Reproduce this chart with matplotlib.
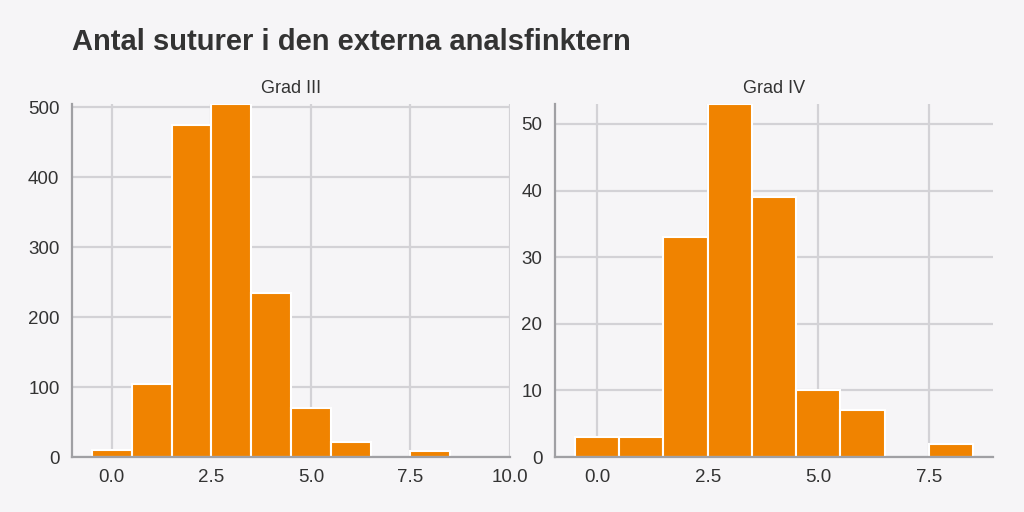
import matplotlib
matplotlib.use("Agg")
import matplotlib.pyplot as plt

plt.rcParams['font.family'] = ['Liberation Sans', 'DejaVu Sans']

title = "Antal suturer i den externa analsfinktern"
panel_titles = ["Grad III", "Grad IV"]

sutures_III = [0, 1, 2, 3, 4, 5, 6, 7, 8, 9]
counts_III = [10, 105, 475, 505, 235, 70, 22, 0, 8, 0]

sutures_IV = [0, 1, 2, 3, 4, 5, 6, 7, 8]
counts_IV = [3, 3, 33, 53, 39, 10, 7, 0, 2]

xticks_III = [0.0, 2.5, 5.0, 7.5, 10.0]
xticks_IV = [0.0, 2.5, 5.0, 7.5]
yticks_III = [0, 100, 200, 300, 400, 500]
yticks_IV = [0, 10, 20, 30, 40, 50]

BG = "#f6f5f7"
BAR = "#f08300"
GRID = "#d3d2d6"
SPINE = "#a0a0a4"
TXT = "#333333"

fig = plt.figure(figsize=(10.24, 5.12), dpi=100, facecolor=BG)
ax1 = fig.add_axes([72/1024, 1-457/512, (510-72)/1024, (457-104)/512])
ax2 = fig.add_axes([555/1024, 1-457/512, (993-555)/1024, (457-104)/512])

for ax, x, y, xt, yt, name in [
    (ax1, sutures_III, counts_III, xticks_III, yticks_III, panel_titles[0]),
    (ax2, sutures_IV, counts_IV, xticks_IV, yticks_IV, panel_titles[1]),
]:
    ax.set_facecolor(BG)
    ax.bar(x, y, width=1.0, color=BAR, edgecolor="white", linewidth=1.5, zorder=3)
    lo, hi = min(x) - 0.5, max(x) + 0.5
    pad = 0.05 * (hi - lo)
    ax.set_xlim(lo - pad, hi + pad)
    ax.set_ylim(0, max(y))
    ax.set_xticks(xt)
    ax.set_xticklabels([f"{v:.1f}" for v in xt])
    ax.set_yticks(yt)
    ax.grid(True, color=GRID, linewidth=1.6, zorder=0)
    ax.set_axisbelow(True)
    for s in ["top", "right"]:
        ax.spines[s].set_visible(False)
    for s in ["left", "bottom"]:
        ax.spines[s].set_color(SPINE)
        ax.spines[s].set_linewidth(1.6)
        ax.spines[s].set_zorder(4)
    ax.tick_params(length=0, labelsize=13.5, colors=TXT)
    ax.tick_params(axis="y", pad=9)
    ax.tick_params(axis="x", pad=9)
    ax.set_title(name, fontsize=13, color=TXT, pad=8)

fig.text(72/1024, 1-42/512, title, fontsize=21, fontweight="bold", color=TXT,
         ha="left", va="center")

fig.savefig("out.png", dpi=100, facecolor=BG)
